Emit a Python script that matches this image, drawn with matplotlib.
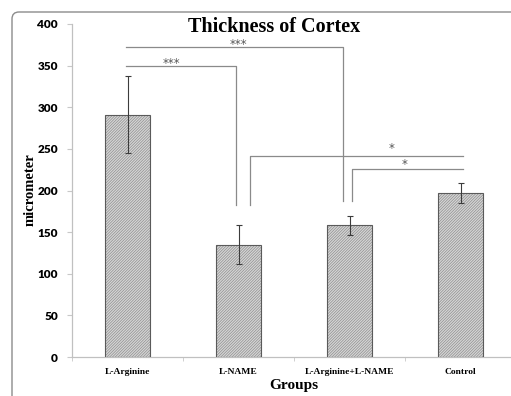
import numpy as np
import matplotlib
matplotlib.use('Agg')
import matplotlib.pyplot as plt
from matplotlib.patches import FancyBboxPatch

plt.rcParams['hatch.linewidth'] = 0.5

# data
groups = ['L-Arginine', 'L-NAME', 'L-Arginine+L-NAME', 'Control']
means = [291, 135, 158, 197]
errors = [46, 23, 11.5, 12.5]

# significance brackets: (left group, right group, bracket height, drop level, label)
brackets = [
    (0, 1, 350, 182.6, '***'),
    (0, 2, 372, 187.7, '***'),
    (1, 3, 242, 182.6, '*'),
    (2, 3, 225.4, 187.7, '*'),
]

W, H = 511, 396
fig = plt.figure(figsize=(W / 100, H / 100), dpi=100)
ax = fig.add_axes([72 / W, 1 - 357 / H, 444 / W, 333 / H])

# outer rounded frame (Excel chart area)
frame = FancyBboxPatch((0.12, -0.5), 5.3, 3.84 + 0.5,
                       boxstyle='round,pad=0,rounding_size=0.07',
                       transform=fig.dpi_scale_trans, fill=False,
                       edgecolor='#8c8c8c', linewidth=1.0, zorder=0)
fig.patches.append(frame)

x = np.arange(len(groups))
ax.bar(x, means, width=0.405, color='#d6d6d6', edgecolor='#8e8e8e',
       hatch='/' * 12, linewidth=0, zorder=2)
ax.bar(x, means, width=0.405, fill=False, edgecolor='#5a5a5a',
       linewidth=0.8, zorder=3)
ax.errorbar(x, means, yerr=errors, fmt='none', ecolor='#3c3c3c',
            elinewidth=0.8, capsize=2, capthick=0.8, zorder=4)

# bracket geometry (offsets from group centres)
offs = {(0, 1): (-0.01, -0.02), (0, 2): (-0.01, -0.06),
        (1, 3): (0.10, 0.02), (2, 3): (0.02, 0.02)}
star_x = [0.40, 1.00, 2.38, 2.50]
star_y = [353, 375, 250, 231]
for (a, b, h, drop, lab), sx, sy in zip(brackets, star_x, star_y):
    oa, ob = offs[(a, b)]
    xa, xb = a + oa, b + ob
    if a == 0:
        # horizontal then down at right end
        ax.plot([xa, xb, xb], [h, h, drop], color='#8a8a8a', lw=0.9,
                zorder=5, clip_on=False)
    else:
        # down at left end then horizontal
        ax.plot([xa, xa, xb], [drop, h, h], color='#8a8a8a', lw=0.9,
                zorder=5, clip_on=False)
    ax.text(sx, sy, lab, ha='center', va='center', fontsize=8.5,
            color='#555555', family='DejaVu Sans', zorder=6)

ax.set_xlim(-0.5, 3.5)
ax.set_ylim(0, 400)
ax.set_yticks(np.arange(0, 401, 50))
ax.set_xticks(x)
ax.set_xticks(np.arange(-0.5, 4, 1), minor=True)
ax.set_xticklabels(groups, family='Liberation Serif', fontweight='bold',
                   fontsize=6.8)
for lab in ax.get_yticklabels():
    lab.set_family('Lato')
    lab.set_fontweight('heavy')
    lab.set_fontsize(8.5)
ax.tick_params(axis='x', which='major', length=0, pad=8)
ax.tick_params(axis='x', which='minor', length=3, color='#c8c8c8')
ax.tick_params(axis='y', length=3.6, color='#c8c8c8', pad=6.5)

for s in ['top', 'right']:
    ax.spines[s].set_visible(False)
for s in ['left', 'bottom']:
    ax.spines[s].set_color('#c0c0c0')
    ax.spines[s].set_linewidth(0.9)

fig.text(274 / W, 1 - 27 / H, 'Thickness of Cortex', ha='center',
         va='center', family='Liberation Serif', fontweight='bold',
         fontsize=14.5)
fig.text(294 / W, 1 - 386 / H, 'Groups', ha='center', va='center',
         family='Liberation Serif', fontweight='bold', fontsize=11)
fig.text(30.5 / W, 1 - 190 / H, 'micrometer', ha='center', va='center',
         rotation=90, family='Liberation Serif', fontweight='bold',
         fontsize=10.5)

fig.savefig('out.png', dpi=100)
